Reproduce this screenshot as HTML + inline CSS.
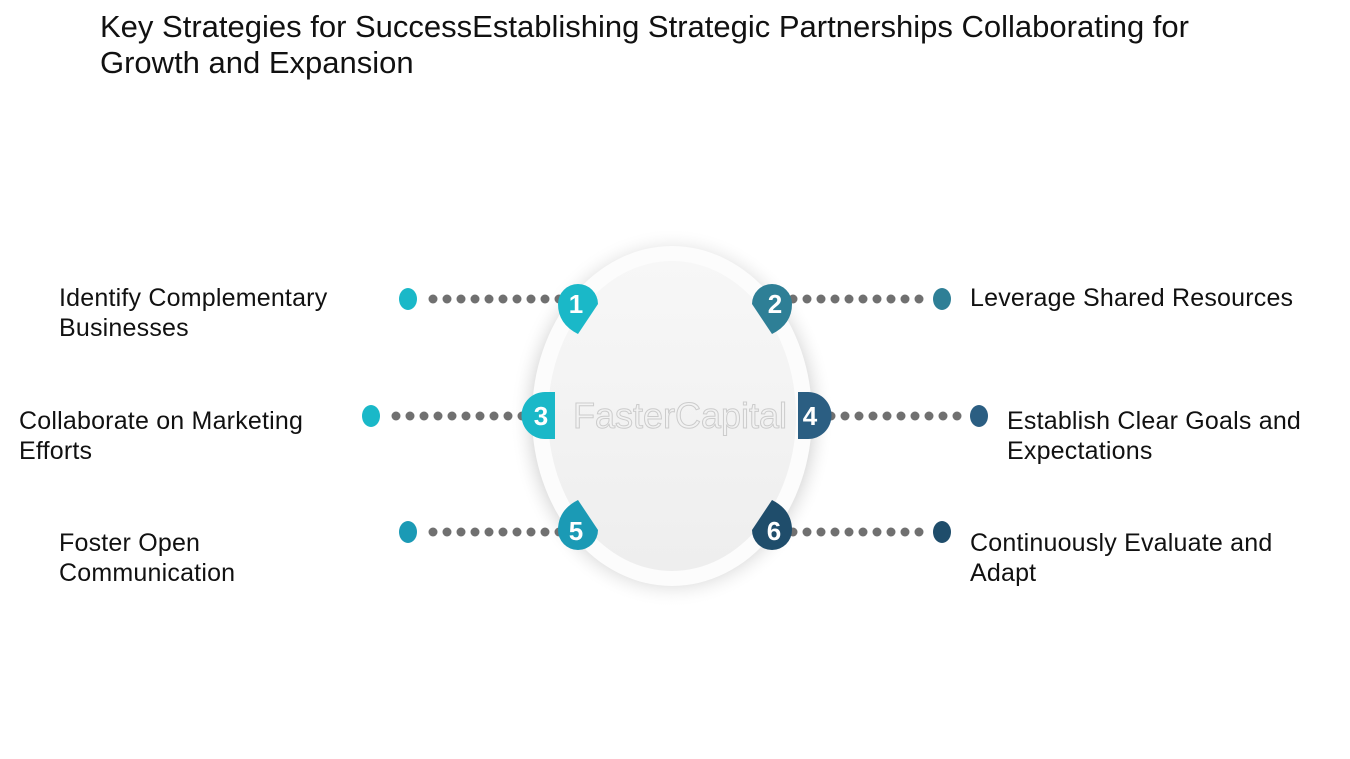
<!DOCTYPE html>
<html><head><style>
body{margin:0;width:1350px;height:759px;background:#fff;position:relative;overflow:hidden;font-family:"Liberation Sans",sans-serif}
.t{position:absolute;left:100px;top:9px;font-size:31px;line-height:36px;color:#111;width:1110px}
.l{position:absolute;font-size:25px;letter-spacing:0.2px;line-height:30px;color:#111;white-space:nowrap}
</style></head><body>
<div class="t">Key Strategies for SuccessEstablishing Strategic Partnerships Collaborating for Growth and Expansion</div>
<svg width="1350" height="759" style="position:absolute;left:0;top:0">
<defs>
<radialGradient id="sh" cx="50%" cy="50%" r="50%"><stop offset="85%" stop-color="#ddd"/><stop offset="100%" stop-color="#fff" stop-opacity="0"/></radialGradient>
<linearGradient id="in" x1="0" y1="0" x2="0" y2="1"><stop offset="0" stop-color="#f7f7f7"/><stop offset="1" stop-color="#eeeeee"/></linearGradient>
<g id="dl"><circle cx="433" r="4.5"/><circle cx="447" r="4.5"/><circle cx="461" r="4.5"/><circle cx="475" r="4.5"/><circle cx="489" r="4.5"/><circle cx="503" r="4.5"/><circle cx="517" r="4.5"/><circle cx="531" r="4.5"/><circle cx="545" r="4.5"/><circle cx="559" r="4.5"/></g>
</defs>
<ellipse cx="672" cy="418" rx="162" ry="190" fill="url(#sh)"/>
<ellipse cx="672" cy="416" rx="140" ry="170" fill="#fcfcfc"/>
<ellipse cx="672" cy="416" rx="124" ry="155" fill="url(#in)"/>
<text x="680" y="428" font-size="36" fill="none" stroke="#ccc" stroke-width="1" text-anchor="middle" font-family="Liberation Sans">FasterCapital</text>
<g fill="#707070">
<use href="#dl" y="299"/><use href="#dl" y="532"/><use href="#dl" x="-37" y="416"/>
<use href="#dl" x="360" y="299"/><use href="#dl" x="360" y="532"/><use href="#dl" x="398" y="416"/>
</g>
<ellipse cx="408" cy="299" rx="9" ry="11" fill="#1ab8c8"/>
<ellipse cx="942" cy="299" rx="9" ry="11" fill="#2e7f96"/>
<ellipse cx="371" cy="416" rx="9" ry="11" fill="#1ab8c8"/>
<ellipse cx="979" cy="416" rx="9" ry="11" fill="#2b5e82"/>
<ellipse cx="408" cy="532" rx="9" ry="11" fill="#1b9ab5"/>
<ellipse cx="942" cy="532" rx="9" ry="11" fill="#1f4d6b"/>
<g font-family="Liberation Sans" font-weight="bold" font-size="26" fill="#fff" text-anchor="middle">
<path d="M578 284 a20 20 0 0 1 20 20 q-10 15 -20 30 q-20-10-20-30 a20 20 0 0 1 20-20z" fill="#1ab8c8"/><text x="576" y="313">1</text>
<path d="M772 284 a20 20 0 0 0 -20 20 q10 15 20 30 q20-10 20-30 a20 20 0 0 0 -20-20z" fill="#2e7f96"/><text x="775" y="313">2</text>
<path d="M545 392 h10 v47 h-10 a23 23 0 0 1 0-47z" fill="#1ab8c8"/><text x="541" y="425">3</text>
<path d="M808 392 h-10 v47 h10 a23 23 0 0 0 0-47z" fill="#2b5e82"/><text x="810" y="425">4</text>
<path d="M578 550 a20 20 0 0 0 20 -20 q-10 -15 -20 -30 q-20 10 -20 30 a20 20 0 0 0 20 20z" fill="#1b9ab5"/><text x="576" y="540">5</text>
<path d="M772 550 a20 20 0 0 1 -20 -20 q10 -15 20 -30 q20 10 20 30 a20 20 0 0 1 -20 20z" fill="#1f4d6b"/><text x="774" y="540">6</text>
</g>
</svg>
<div class="l" style="left:59px;top:283px">Identify Complementary<br>Businesses</div>
<div class="l" style="left:970px;top:283px">Leverage Shared Resources</div>
<div class="l" style="left:19px;top:406px">Collaborate on Marketing<br>Efforts</div>
<div class="l" style="left:1007px;top:406px">Establish Clear Goals and<br>Expectations</div>
<div class="l" style="left:59px;top:528px">Foster Open<br>Communication</div>
<div class="l" style="left:970px;top:528px">Continuously Evaluate and<br>Adapt</div>
</body></html>
